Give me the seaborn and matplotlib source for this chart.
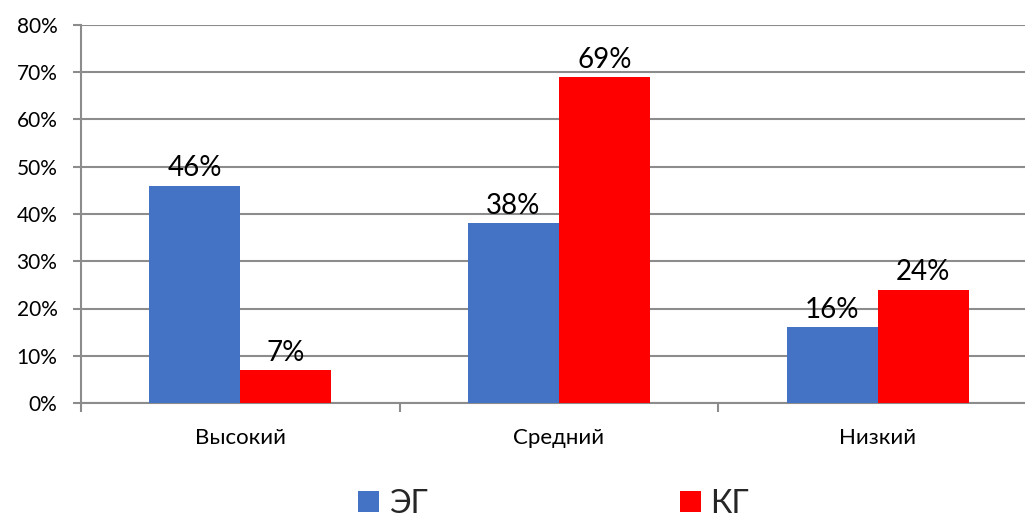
import matplotlib
matplotlib.use("Agg")
import matplotlib.pyplot as plt
from matplotlib.patches import Patch
import seaborn as sns
import pandas as pd

categories = ["Высокий", "Средний", "Низкий"]
series_names = ["ЭГ", "КГ"]
eg_values = [46, 38, 16]
kg_values = [7, 69, 24]
y_ticks = [0, 10, 20, 30, 40, 50, 60, 70, 80]
colors = ["#4472C4", "#FF0000"]

df = pd.DataFrame({
    "level": categories * 2,
    "group": [series_names[0]] * 3 + [series_names[1]] * 3,
    "value": eg_values + kg_values,
})

sns.set_theme(style="white")
plt.rcParams["font.family"] = ["Lato", "Noto Sans", "DejaVu Sans"]

fig = plt.figure(figsize=(10.25, 5.18), dpi=100)
ax = fig.add_axes([81 / 1025, 115 / 518, 956 / 1025, 378 / 518])

sns.barplot(data=df, x="level", y="value", hue="group", order=categories,
            hue_order=series_names, palette=colors, width=0.572,
            saturation=1, legend=False, ax=ax, zorder=3, linewidth=0)

ax.set_xlim(-0.5, 2.5)
ax.set_ylim(0, 80)
ax.set_yticks(y_ticks)
ax.set_yticklabels([f"{v}%" for v in y_ticks], fontsize=15, color="#000000")
ax.yaxis.grid(True, color="#8C8C8C", linewidth=1.5, zorder=0)
ax.set_xlabel("")
ax.set_ylabel("")

for s in ["top", "right"]:
    ax.spines[s].set_visible(False)
for s in ["left", "bottom"]:
    ax.spines[s].set_color("#8C8C8C")
    ax.spines[s].set_linewidth(1.5)

ax.tick_params(axis="y", which="both", left=True, length=6, width=1.5,
               color="#8C8C8C", pad=11)
ax.set_xticks([0, 1, 2])
ax.set_xticklabels(categories, fontsize=16, color="#000000")
ax.tick_params(axis="x", which="major", bottom=False, pad=12)
ax.set_xticks([-0.5, 0.5, 1.5, 2.5], minor=True)
ax.tick_params(axis="x", which="minor", bottom=True, length=6.5, width=1.5,
               color="#8C8C8C", direction="out")

for container in ax.containers:
    ax.bar_label(container, labels=[f"{v:.0f}%" for v in container.datavalues],
                 fontsize=20, padding=3, color="#000000")

handles = [Patch(facecolor=c, edgecolor="none") for c in colors]
fig.legend(handles, series_names, loc="lower left",
           bbox_to_anchor=(342 / 1025, -0.032), ncol=2, frameon=False,
           fontsize=23, columnspacing=7.9, borderpad=0,
           handlelength=0.66, handleheight=0.66, handletextpad=0.3)

fig.savefig("out.png", dpi=100)
